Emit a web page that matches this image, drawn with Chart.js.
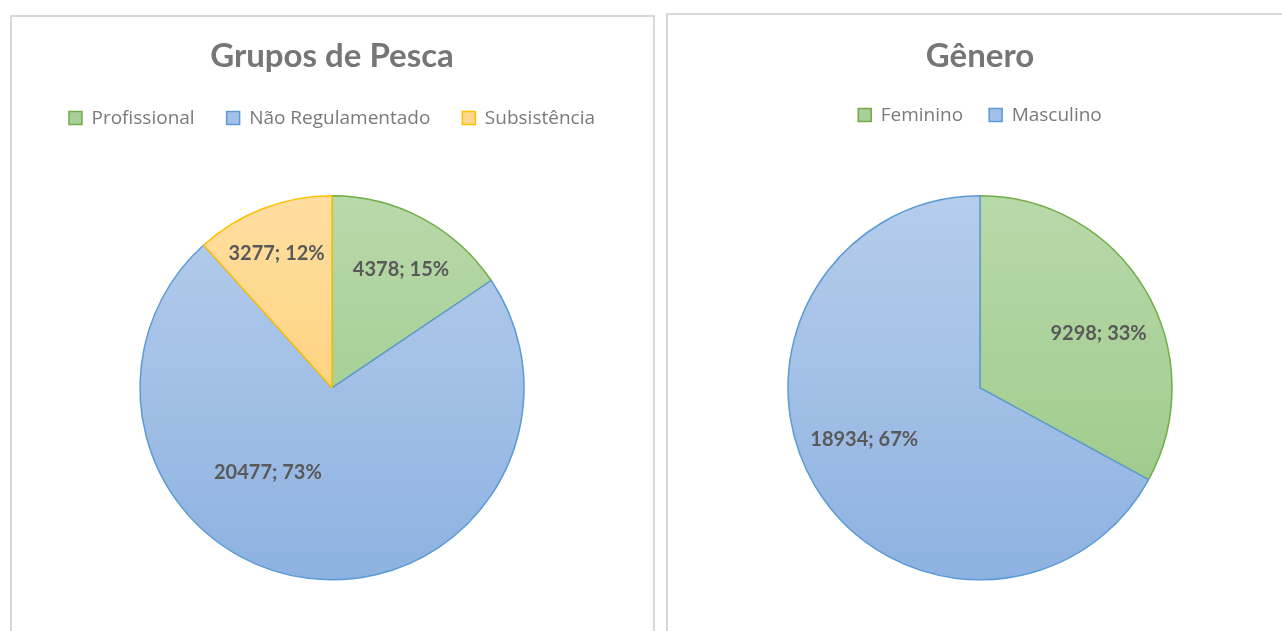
<!DOCTYPE html>
<html><head><meta charset="utf-8">
<script src="https://cdn.jsdelivr.net/npm/chart.js@4.4.0/dist/chart.umd.min.js"></script>
<style>
html,body{margin:0;padding:0;background:#fff;overflow:hidden;width:1282px;height:631px;}
.panel{position:absolute;border:2px solid #d9d9d9;box-sizing:border-box;background:#fff;}
canvas{position:absolute;}
</style></head><body>
<div class="panel" style="left:10px;top:15px;width:645px;height:700px;"></div>
<div class="panel" style="left:666px;top:13px;width:700px;height:700px;"></div>
<canvas id="c1" width="644" height="638" style="left:10px;top:0px"></canvas>
<canvas id="c2" width="628" height="641" style="left:666px;top:0px"></canvas>
<script>
// ---- data ----
const pescaTitle = 'Grupos de Pesca';
const pescaLabels = ['Profissional', 'Não Regulamentado', 'Subsistência'];
const pescaValues = [4378, 20477, 3277];
const pescaPercents = [15, 73, 12];

const generoTitle = 'Gênero';
const generoLabels = ['Feminino', 'Masculino'];
const generoValues = [9298, 18934];
const generoPercents = [33, 67];

// ---- style ----
const R = 192;
const GREEN = {light:'#b8d9aa', dark:'#99c784', flat:'#a9cf98', border:'#70ad47'};
const BLUE = {light:'#b6cdeb', dark:'#8db2e1', flat:'#a3c1e6', border:'#5b9bd5'};
const ORANGE = {light:'#ffdea1', dark:'#ffca63', flat:'#ffd78f', border:'#ffc000'};

function gradFor(palette){
  return (ctx) => {
    const c = palette[ctx.dataIndex] || palette[0];
    const ch = ctx.chart, a = ch.chartArea;
    if (!a) return c.flat;
    const cy = (a.top + a.bottom) / 2;
    const g = ch.ctx.createLinearGradient(0, cy - R, 0, cy + R);
    g.addColorStop(0, c.light);
    g.addColorStop(1, c.dark);
    return g;
  };
}

const sliceLabels = {
  id: 'sliceLabels',
  afterDatasetsDraw(chart, args, opts) {
    const meta = chart.getDatasetMeta(0);
    const vals = chart.data.datasets[0].data;
    const ctx = chart.ctx;
    ctx.save();
    ctx.font = opts.font;
    ctx.fillStyle = opts.color;
    ctx.textAlign = 'center';
    ctx.textBaseline = 'middle';
    meta.data.forEach((arc, i) => {
      const p = arc.getProps(['x','y','startAngle','endAngle','outerRadius'], true);
      const mid = (p.startAngle + p.endAngle) / 2 + (opts.angleShift[i] || 0) * Math.PI / 180;
      const r = p.outerRadius * opts.radial[i];
      ctx.fillText(vals[i] + '; ' + opts.percents[i] + '%', p.x + Math.cos(mid) * r, p.y + Math.sin(mid) * r);
    });
    ctx.restore();
  }
};

function makePie(id, title, labels, values, percents, palette, labelPos, legendPad, titlePadBottom) {
  return new Chart(document.getElementById(id), {
    type: 'pie',
    data: {
      labels: labels,
      datasets: [{
        data: values,
        backgroundColor: gradFor(palette),
        borderColor: palette.map(c => c.border),
        borderWidth: 1.5
      }]
    },
    options: {
      responsive: false,
      animation: false,
      devicePixelRatio: 1,
      radius: R,
      layout: {padding: {top: 0, bottom: 0, left: 0, right: 0}},
      plugins: {
        title: {
          display: true, text: title, color: '#767676',
          font: {family: 'Lato', size: 33, weight: 'bold'},
          padding: {top: 37, bottom: titlePadBottom}
        },
        legend: {
          position: 'top',
          labels: {
            boxWidth: 13, boxHeight: 13, padding: legendPad, color: '#7a7a7a',
            font: {family: 'Open Sans', size: 19},
            generateLabels: (chart) => chart.data.labels.map((l, i) => ({
              text: l, fillStyle: palette[i].flat, strokeStyle: palette[i].border,
              lineWidth: 1.5, fontColor: '#7a7a7a', hidden: false, index: i
            }))
          }
        },
        tooltip: {enabled: false},
        sliceLabels: {
          font: 'bold 20px Lato', color: '#595959',
          percents: percents,
          angleShift: labelPos.angleShift,
          radial: labelPos.radial
        }
      }
    },
    plugins: [sliceLabels]
  });
}

makePie('c1', pescaTitle, pescaLabels, pescaValues, pescaPercents, [GREEN, BLUE, ORANGE],
  {angleShift: [2.3, 30, -1.5], radial: [0.712, 0.554, 0.755]}, 32, 0);
makePie('c2', generoTitle, generoLabels, generoValues, generoPercents, [GREEN, BLUE],
  {angleShift: [6, 6.7], radial: [0.68, 0.66]}, 26, 3);
</script>
</body></html>
